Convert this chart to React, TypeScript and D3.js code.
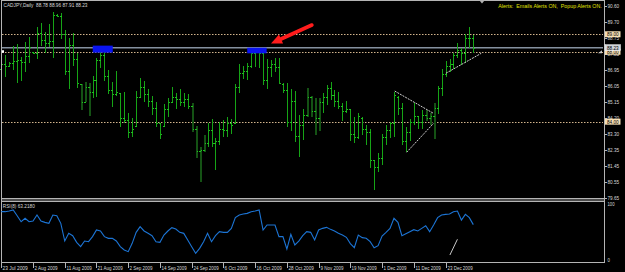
import React from 'react';
import * as d3 from 'd3';

const highs = [87.90,87.81,87.43,88.33,88.42,87.68,88.54,88.86,88.00,89.43,89.62,89.13,89.59,90.25,90.16,90.22,89.24,88.79,89.09,87.91,86.15,86.29,86.19,86.63,87.62,88.35,88.00,86.96,86.29,86.90,85.62,85.72,84.48,84.23,85.77,86.48,86.35,85.85,85.47,85.11,83.94,84.99,85.35,86.00,85.62,85.85,85.66,85.56,85.09,83.77,82.57,83.24,83.90,84.13,83.08,83.98,84.09,84.25,84.15,86.15,87.30,87.18,87.37,88.23,88.20,88.14,88.14,87.57,87.53,87.64,87.62,86.19,86.23,85.85,85.75,84.38,84.70,85.94,85.47,85.33,85.33,85.66,86.10,86.29,85.81,85.72,85.09,85.20,84.72,84.29,84.51,84.25,83.81,83.56,81.81,82.23,83.29,83.81,84.00,85.72,85.47,85.05,83.71,84.15,85.09,84.32,84.67,84.67,84.51,85.05,86.04,86.99,87.47,87.57,87.91,88.48,88.20,89.01,89.43,88.96];
const lows = [86.40,86.57,87.11,86.96,86.19,86.35,86.86,87.34,87.87,87.58,88.33,87.95,88.25,87.62,89.97,88.75,86.69,85.89,87.18,85.94,84.67,85.14,84.32,85.33,85.39,87.09,86.35,85.56,84.82,85.47,83.71,83.90,83.08,83.14,83.75,85.39,85.14,84.82,84.36,83.71,82.99,83.71,84.25,85.05,84.70,84.90,84.82,84.70,83.43,81.90,80.57,82.28,82.57,82.57,81.24,82.66,83.14,83.14,83.29,83.90,85.66,86.42,86.38,87.05,87.15,87.09,86.10,85.85,86.57,86.86,86.15,85.66,83.71,83.49,82.86,82.00,82.95,84.29,84.25,83.24,83.47,84.48,84.95,85.24,84.86,84.70,84.04,84.48,82.91,82.80,82.99,83.24,82.66,81.37,80.09,81.14,81.52,82.66,83.05,83.14,84.38,82.66,82.28,82.91,83.81,83.56,83.56,84.06,83.81,82.99,84.44,85.47,86.57,86.86,86.99,87.66,87.24,87.37,88.23,87.91];
const opens = [87.00,87.30,87.20,87.35,87.45,87.55,87.40,87.75,88.00,87.95,89.10,88.70,88.50,88.60,90.10,90.05,89.00,86.90,88.40,87.60,86.15,85.15,86.00,85.70,86.40,87.50,87.80,86.60,85.80,85.60,85.62,84.20,84.10,83.40,83.75,85.40,86.00,85.60,85.20,84.80,83.90,83.75,84.70,85.10,85.40,85.30,85.10,85.30,84.90,83.60,82.30,82.40,82.80,83.50,82.80,82.90,83.60,83.50,83.90,83.90,86.00,86.80,86.90,87.20,87.90,88.00,87.90,86.40,87.10,87.30,87.10,86.15,85.80,84.00,85.20,83.20,83.80,84.40,85.40,84.60,84.20,85.10,85.40,85.90,85.50,85.20,84.90,84.60,84.70,83.30,83.10,84.20,83.60,83.40,81.80,81.40,81.90,83.10,83.50,83.90,85.40,84.80,82.90,83.40,84.00,84.30,84.00,84.40,84.20,84.30,84.80,85.90,86.70,87.20,87.30,87.80,88.10,87.90,88.80,88.78];
const closes = [87.30,87.20,87.35,87.45,87.55,87.40,87.75,88.30,87.95,89.10,88.70,88.50,88.60,90.10,90.05,89.00,86.90,88.40,87.60,86.20,85.10,86.00,85.70,86.40,87.50,87.80,86.60,85.80,85.60,85.70,84.20,84.10,83.40,83.60,85.40,86.00,85.60,85.20,84.80,83.90,83.30,84.70,85.10,85.40,85.30,85.10,85.30,84.90,83.60,82.30,82.40,82.80,83.50,82.80,82.90,83.60,83.50,83.90,83.80,86.00,86.80,86.90,87.20,87.90,88.00,87.90,86.40,87.10,87.30,87.10,86.20,85.80,84.00,85.20,83.20,83.80,84.40,85.40,84.60,84.20,85.10,85.40,85.90,85.50,85.20,84.90,84.60,84.70,83.30,83.10,84.30,83.60,83.40,81.80,81.40,81.90,83.10,83.50,83.90,85.50,84.80,82.90,83.40,84.00,84.30,84.00,84.40,84.20,84.30,84.80,85.90,86.70,87.20,87.30,87.80,88.10,87.90,88.80,88.78,88.23];
const darkBars = [20,21,22,48,49,50,51,77,78,79,80,107,108,109];
const rsiValues = [86.3,86.3,87.5,89.3,79.1,68.4,74.4,68.4,69.6,80.3,69.6,67.2,65.5,80.3,79.1,65.5,33.9,47.6,43.4,31.5,23.8,33.9,32.7,41.7,53.6,51.8,41.7,38.7,38.7,33.9,23.8,17.9,14.9,29.8,49.4,59.5,51.8,47.6,43.4,32.7,31.5,44.6,51.8,57.7,55.3,49.4,47.6,35.7,23.8,11.9,20.8,32.7,47.6,32.7,43.4,50.6,49.4,49.4,56.5,75.6,80.3,82.1,83.3,86.3,87.5,89.3,53.6,62.5,62.5,62.5,41.7,41.7,19.6,45.8,26.8,33.9,43.4,50.6,49.4,35.7,53.6,56.5,58.3,54.7,51.8,47.6,44.6,40.5,29.2,22.0,44.6,39.9,38.7,32.7,22.0,25.6,42.8,49.4,56.5,74.4,67.2,43.4,47.0,50.6,54.1,51.8,56.5,61.3,50.6,62.5,75.6,80.3,81.5,82.1,86.3,87.5,71.4,81.5,75.6,63.2];
const dateLabels = ["23 Jul 2009","2 Aug 2009","11 Aug 2009","21 Aug 2009","2 Sep 2009","14 Sep 2009","24 Sep 2009","6 Oct 2009","16 Oct 2009","28 Oct 2009","9 Nov 2009","19 Nov 2009","1 Dec 2009","11 Dec 2009","23 Dec 2009"];
const dateIdx = [0,8,16,24,32,40,48,56,64,72,80,88,96,104,112];
const priceTickLabels = ["90.60","89.70","88.75","87.85","86.95","86.05","85.15","84.20","83.30","82.35","81.45","80.55","79.65"];
const priceTop = 90.60;
const priceBottom = 79.65;
const hLevels = [89.00, 88.00, 84.00];
const hLevelLabels = ["89.00", "88.00", "84.00"];
const bidPrice = 88.23;
const bidLabel = "88.23";
const blueZones = [[23.05, 28.1, 88.35, 87.95], [62.0, 66.9, 88.23, 87.91]];
const trendLines = [[99.2, 85.75, 109.0, 84.47], [102.2, 82.25, 109.0, 83.91], [112.1, 86.77, 121.0, 87.91]];
const arrowTip = [68.0, 88.47];
const arrowTail = [78.3, 89.53];
const rsiTrend = [113.1, 8.9, 115.0, 37.0];
const titleText = "CADJPY,Daily  88.78 88.96 87.91 88.23";
const alertText = "Alerts:  Emails Alerts ON,  Popup Alerts ON.";
const rsiText = "RSI(8) 63.2180";

const FONT = "'Liberation Sans', Arial, sans-serif";

function Txt({ x, y, s, w, fill = '#d8d8d8', size = 5.2, anchor = 'start' }: any) {
  return (
    <text x={x} y={y} fill={fill} fontSize={size} fontFamily={FONT} textAnchor={anchor}
      textLength={w} lengthAdjust="spacingAndGlyphs" style={{ whiteSpace: 'pre' }}>{s}</text>
  );
}

export default function App() {
  const n = highs.length;
  const xS = d3.scaleLinear().domain([0, n - 1]).range([1.3, 473.3]);
  const yS = d3.scaleLinear().domain([priceBottom, priceTop]).range([197.7, 6.3]);
  const rS = d3.scaleLinear().domain([0, 100]).range([260, 204]);
  const px = (i: number) => Math.round(xS(i)) + 0.5;
  const py = (v: number) => Math.round(yS(v)) + 0.5;
  const tickVals = priceTickLabels.map((_, k) => priceTop - k * (priceTop - priceBottom) / (priceTickLabels.length - 1));
  const rsiLine = d3.line<number>().x((_, i) => xS(i)).y(d => rS(d))(rsiValues) || '';
  const darkSet = new Set(darkBars);

  // arrow geometry from data coords
  const tx = xS(arrowTip[0]), ty = yS(arrowTip[1]);
  const sx = xS(arrowTail[0]), sy = yS(arrowTail[1]);
  const len = Math.hypot(sx - tx, sy - ty);
  const ux = (sx - tx) / len, uy = (sy - ty) / len;
  const bx = tx + ux * 11, by = ty + uy * 11;
  const w1x = bx - uy * 5, w1y = by + ux * 5;
  const w2x = bx + uy * 5, w2y = by - ux * 5;

  const frame = '#b4b4b4';

  return (
    <svg width={625} height={272} style={{ position: 'absolute', left: 0, top: 0, background: '#000' }}>
      <rect x={0} y={0} width={625} height={272} fill="#000" />
      {/* horizontal levels */}
      {hLevels.map((v, k) => (
        <line key={'h' + k} x1={2} x2={603} y1={py(v)} y2={py(v)} stroke="#d2b48c" strokeWidth={1} strokeDasharray="1.5 1.5" />
      ))}
      <line x1={2} x2={603} y1={yS(bidPrice)} y2={yS(bidPrice)} stroke="#8591a0" strokeWidth={1.4} />
      {/* bars */}
      <g shapeRendering="crispEdges">
        {highs.map((h, i) => {
          const x = px(i);
          const dark = darkSet.has(i);
          return (
            <g key={'b' + i}>
              <line x1={dark ? x + 0.5 : x} x2={dark ? x + 0.5 : x} y1={yS(h)} y2={yS(lows[i])}
                stroke={dark ? '#145214' : '#16a416'} strokeWidth={dark ? 2 : 1} />
              <line x1={x - 1.5} x2={x} y1={py(opens[i])} y2={py(opens[i])} stroke="#1fc21f" strokeWidth={1} />
              <line x1={x} x2={x + 1.5} y1={py(closes[i])} y2={py(closes[i])} stroke="#1fc21f" strokeWidth={1} />
            </g>
          );
        })}
      </g>
      {/* blue zones */}
      {blueZones.map((z, k) => (
        <rect key={'z' + k} x={xS(z[0])} y={yS(z[2])} width={xS(z[1]) - xS(z[0])} height={yS(z[3]) - yS(z[2])} fill="#0a14f0" />
      ))}
      {/* trend lines */}
      {trendLines.map((t, k) => (
        <line key={'t' + k} x1={xS(t[0])} y1={yS(t[1])} x2={xS(t[2])} y2={yS(t[3])} stroke="#d0d0d0" strokeWidth={1} strokeDasharray="2 1" />
      ))}
      {/* red arrow */}
      <line x1={sx} y1={sy} x2={bx} y2={by} stroke="#ff1c1c" strokeWidth={3.6} strokeLinecap="round" />
      <polygon points={`${tx},${ty} ${w1x},${w1y} ${w2x},${w2y}`} fill="#ff1c1c" />
      {/* markers */}
      <rect x={1.5} y={yS(88.00) - 1.5} width={2.5} height={2.5} fill="#ffffff" />
      <polygon points={`${598},${yS(88.00) + 1.5} ${602},${yS(88.00) - 1.5} ${602},${yS(88.00) + 1.5}`} fill="#c8c8c8" />
      <polygon points="479.5,0.5 484.5,0.5 482,3.5" fill="#b0b0b0" />
      {/* frames */}
      <g shapeRendering="crispEdges">
        <line x1={1.5} x2={1.5} y1={0} y2={263} stroke={frame} />
        <line x1={1} x2={604.5} y1={0.5} y2={0.5} stroke={frame} />
        <line x1={604.5} x2={604.5} y1={0} y2={263} stroke={frame} />
        <rect x={1.5} y={198.5} width={603} height={3} fill="#4a4a4a" stroke={frame} />
        <line x1={1} x2={605} y1={262.5} y2={262.5} stroke={frame} />
        {tickVals.map((v, k) => (
          <line key={'pt' + k} x1={605} x2={607} y1={py(v)} y2={py(v)} stroke={frame} />
        ))}
        {dateIdx.map((d, k) => (
          <line key={'dt' + k} x1={px(d)} x2={px(d)} y1={263} y2={268} stroke={frame} />
        ))}
      </g>
      {/* RSI */}
      <path d={rsiLine} fill="none" stroke="#1c74d4" strokeWidth={1.1} />
      <line x1={xS(rsiTrend[0])} y1={rS(rsiTrend[1])} x2={xS(rsiTrend[2])} y2={rS(rsiTrend[3])} stroke="#c8c8c8" strokeWidth={1} />
      <Txt x={2.8} y={207.8} s={rsiText} w={32} />
      {/* texts */}
      <Txt x={3.5} y={7.4} s={titleText} w={84} />
      <Txt x={498.3} y={8.2} s={alertText} w={103.5} fill="#e2e200" />
      {tickVals.map((v, k) => (
        <Txt key={'pl' + k} x={607.5} y={yS(v) + 1.9} s={priceTickLabels[k]} w={11.7} />
      ))}
      <Txt x={607.5} y={rS(100) + 1.9} s="100" w={7} />
      <Txt x={607.5} y={rS(0) + 1.9} s="0" w={2.4} />
      {hLevels.map((v, k) => (
        <g key={'hl' + k}>
          <rect x={605} y={yS(v) - 3} width={15.5} height={6} fill="#f5deb3" />
          <Txt x={607} y={yS(v) + 1.9} s={hLevelLabels[k]} w={11.7} fill="#000" />
        </g>
      ))}
      <rect x={605} y={yS(bidPrice) - 3} width={15.5} height={6} fill="#cfd4da" stroke="#ffffff" strokeWidth={0.5} />
      <Txt x={607} y={yS(bidPrice) + 1.9} s={bidLabel} w={11.7} fill="#000" />
      {dateIdx.map((d, k) => (
        <Txt key={'dl' + k} x={px(d) + 1} y={269.6} s={dateLabels[k]} w={dateLabels[k].length * 2.3} />
      ))}
    </svg>
  );
}
